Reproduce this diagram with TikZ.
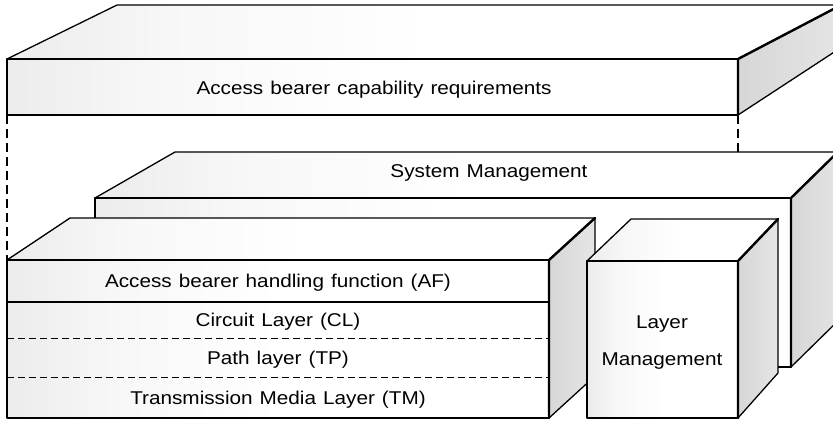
\documentclass[tikz,border=0pt]{standalone}
\usepackage{fontspec}
\setmainfont{Liberation Sans}[FakeStretch=1.12]
\pgfdeclarehorizontalshading{frontfade}{100bp}{color(0bp)=(gray!42); color(15bp)=(gray!24); color(35bp)=(gray!6); color(50bp)=(white); color(100bp)=(white)}
\pgfdeclarehorizontalshading{sidefade}{100bp}{color(0bp)=(gray!38); color(100bp)=(gray!14)}
\newcommand{\wordgap}{\spaceskip=7pt\relax}

\begin{document}
\begin{tikzpicture}[x=1pt, y=-1pt,
      face/.style={shading=frontfade, draw=black, line width=1.3pt, line join=round},
      side/.style={shading=sidefade, draw=black, line width=1.3pt, line join=round},
      edge/.style={line width=2.4pt, line cap=round},
      link/.style={line width=2.2pt, dash pattern=on 9pt off 5pt},
      split/.style={line width=0.9pt, dash pattern=on 7pt off 4pt},
      lbl/.style={font=\fontsize{18.5}{22}\selectfont\wordgap, inner sep=0pt, anchor=base}]
    \useasboundingbox (0,0) rectangle (833,421);
    \clip (0,0) rectangle (833,421);

    % access bearer capability requirements
    \path[face] (7,59) -- (117,5) -- (845,5) -- (738,59) -- cycle;
    \path[side] (738,59) -- (845,3) -- (845,45) -- (738,115) -- cycle;
    \path[face] (7,59) rectangle (738,115);
    \draw[edge] (738,115) -- (738,59) -- (845,3);
    \coordinate (reqBL) at (7,115);
    \coordinate (reqBR) at (738,115);
    \node[lbl] (req) at (374,94) {Access bearer capability requirements};

    % system management
    \path[face] (95,198) -- (175,152) -- (845,152) -- (791,198) -- cycle;
    \path[side] (791,198) -- (845,145) -- (845,314) -- (791,367) -- cycle;
    \path[face] (95,198) rectangle (791,367);
    \draw[edge] (791,367) -- (791,198) -- (845,145);
    \coordinate (smTop) at (738,152);
    \node[lbl] (sm) at (489,177) {System Management};

    % access bearer handling stack
    \path[face] (7,260) -- (70,218) -- (595,218) -- (549,260) -- cycle;
    \path[side] (549,260) -- (595,218) -- (595,376) -- (549,418) -- cycle;
    \path[face] (7,260) rectangle (549,418);
    \draw[line width=1.3pt] (7,302) -- (549,302);
    \draw[split] (7,338) -- (549,338);
    \draw[split] (7,377) -- (549,377);
    \draw[edge] (549,418) -- (549,260) -- (595,218);
    \coordinate (afTL) at (7,260);
    \node[lbl] (af) at (278,287) {Access bearer handling function (AF)};
    \node[lbl] (cl) at (278,326) {Circuit Layer (CL)};
    \node[lbl] (tp) at (278,364) {Path layer (TP)};
    \node[lbl] (tm) at (278,404) {Transmission Media Layer (TM)};

    % layer management
    \path[face] (587,261) -- (631,219) -- (778,219) -- (738,261) -- cycle;
    \path[side] (738,261) -- (778,219) -- (778,373) -- (738,418) -- cycle;
    \path[face] (587,261) rectangle (738,418);
    \draw[edge] (738,418) -- (738,261) -- (778,219);
    \node[lbl] (lm1) at (662,328) {Layer};
    \node[lbl] (lm2) at (662,365) {Management};

    \draw[link] (reqBL) -- (afTL);
    \draw[link] (reqBR) -- (smTop);
  \end{tikzpicture}
\end{document}
